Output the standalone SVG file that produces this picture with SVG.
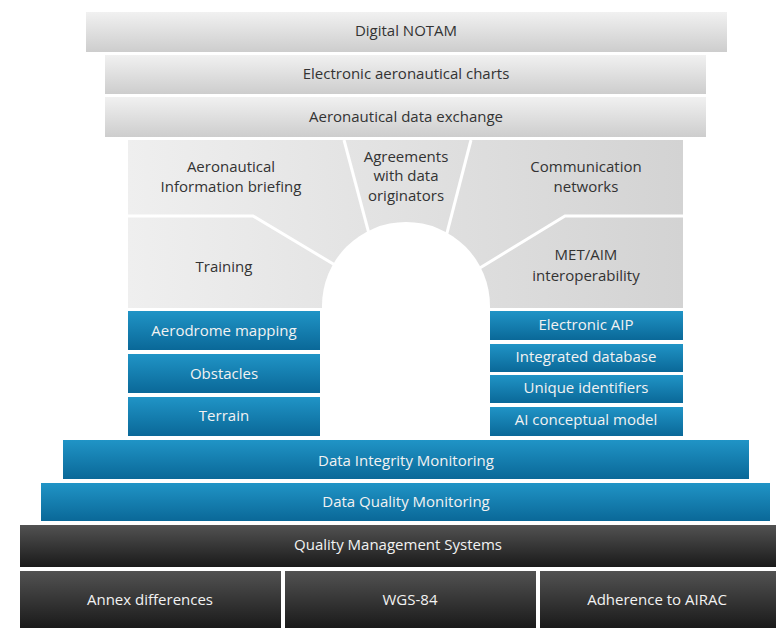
<svg xmlns="http://www.w3.org/2000/svg" width="776" height="628" viewBox="0 0 776 628">
<defs>
<linearGradient id="gTop" x1="0" y1="0" x2="0" y2="1"><stop offset="0" stop-color="#f1f1f1"/><stop offset="1" stop-color="#cdcdcd"/></linearGradient>
<linearGradient id="gArch" x1="0" y1="0" x2="1" y2="0"><stop offset="0" stop-color="#efefef"/><stop offset="1" stop-color="#d3d3d3"/></linearGradient>
<linearGradient id="gBlue" x1="0" y1="0" x2="0" y2="1"><stop offset="0" stop-color="#2094c6"/><stop offset="1" stop-color="#0a6898"/></linearGradient>
<linearGradient id="gDark" x1="0" y1="0" x2="0" y2="1"><stop offset="0" stop-color="#525252"/><stop offset="1" stop-color="#1a1a1a"/></linearGradient>
</defs>
<style>
.top{fill:url(#gTop)}
.blue{fill:url(#gBlue)}
.dark{fill:url(#gDark)}
text{font-family:"Open Sans","Liberation Sans",sans-serif;font-size:15px;text-anchor:middle}
.tg{fill:#333333}
.tw{fill:#f2f2f2}
.div{stroke:#ffffff;stroke-width:3;fill:none}
</style>
<rect width="776" height="628" fill="#ffffff"/>

<g id="digital-notam"><rect class="top" x="86" y="12" width="641" height="40"/><text class="tg" x="406" y="36">Digital NOTAM</text></g>
<g id="electronic-charts"><rect class="top" x="105" y="55" width="601" height="39"/><text class="tg" x="406" y="79">Electronic aeronautical charts</text></g>
<g id="data-exchange"><rect class="top" x="105" y="97" width="601" height="40"/><text class="tg" x="406" y="122">Aeronautical data exchange</text></g>

<g id="arch">
<rect x="128" y="140" width="555" height="168" fill="url(#gArch)"/>
<g id="connectors">
<polyline class="div" points="344,140 376,260"/>
<polyline class="div" points="471,140 440,260"/>
<polyline class="div" points="128,216 253,216 345,271"/>
<polyline class="div" points="683,216 565,216 470,274"/>
</g>
<circle cx="406" cy="306" r="84" fill="#ffffff"/>
<rect x="322" y="306" width="168" height="6" fill="#ffffff"/>
</g>

<g id="ai-briefing"><text class="tg" x="231" y="172">Aeronautical</text><text class="tg" x="231" y="192">Information briefing</text></g>
<g id="agreements"><text class="tg" x="406" y="162">Agreements</text><text class="tg" x="406" y="181">with data</text><text class="tg" x="406" y="201">originators</text></g>
<g id="communication"><text class="tg" x="586" y="172">Communication</text><text class="tg" x="586" y="192">networks</text></g>
<g id="training"><text class="tg" x="224" y="272">Training</text></g>
<g id="met-aim"><text class="tg" x="586" y="260">MET/AIM</text><text class="tg" x="586" y="281">interoperability</text></g>

<g id="aerodrome"><rect class="blue" x="128" y="311" width="192" height="39"/><text class="tw" x="224" y="336">Aerodrome mapping</text></g>
<g id="obstacles"><rect class="blue" x="128" y="354" width="192" height="39"/><text class="tw" x="224" y="379">Obstacles</text></g>
<g id="terrain"><rect class="blue" x="128" y="397" width="192" height="39"/><text class="tw" x="224" y="421">Terrain</text></g>

<g id="eaip"><rect class="blue" x="490" y="311" width="193" height="29"/><text class="tw" x="586" y="330">Electronic AIP</text></g>
<g id="integrated-db"><rect class="blue" x="490" y="344" width="193" height="28"/><text class="tw" x="586" y="362">Integrated database</text></g>
<g id="unique-ids"><rect class="blue" x="490" y="375" width="193" height="28"/><text class="tw" x="586" y="393">Unique identifiers</text></g>
<g id="ai-model"><rect class="blue" x="490" y="407" width="193" height="29"/><text class="tw" x="586" y="425">AI conceptual model</text></g>

<g id="data-integrity"><rect class="blue" x="63" y="440" width="686" height="39"/><text class="tw" x="406" y="466">Data Integrity Monitoring</text></g>
<g id="data-quality"><rect class="blue" x="41" y="483" width="729" height="38"/><text class="tw" x="406" y="507">Data Quality Monitoring</text></g>
<g id="qms"><rect class="dark" x="20" y="525" width="756" height="42"/><text class="tw" x="398" y="550">Quality Management Systems</text></g>
<g id="annex"><rect class="dark" x="20" y="571" width="261" height="57"/><text class="tw" x="150" y="605">Annex differences</text></g>
<g id="wgs84"><rect class="dark" x="285" y="571" width="251" height="57"/><text class="tw" x="410" y="605">WGS-84</text></g>
<g id="airac"><rect class="dark" x="540" y="571" width="236" height="57"/><text class="tw" x="657" y="605">Adherence to AIRAC</text></g>
</svg>
